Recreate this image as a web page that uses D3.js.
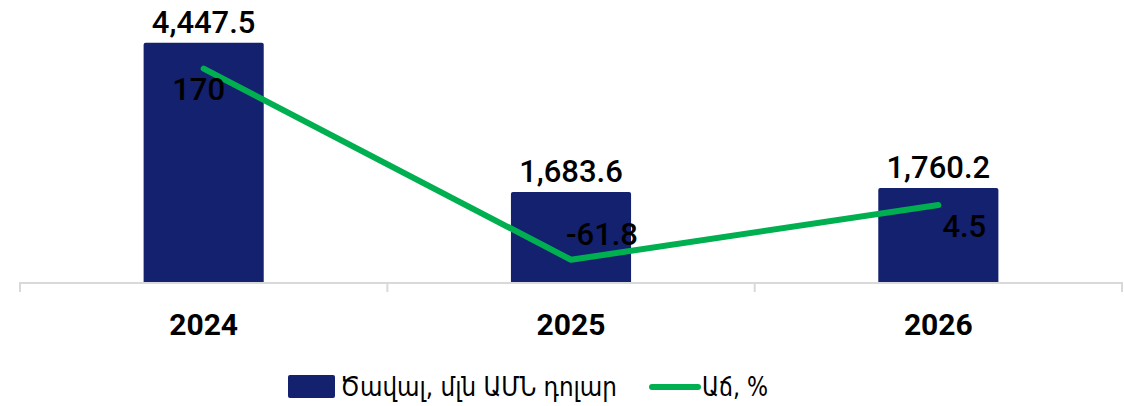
<!DOCTYPE html>
<html>
<head>
<meta charset="utf-8">
<script src="https://cdnjs.cloudflare.com/ajax/libs/d3/7.8.5/d3.min.js"></script>
<style>
body { margin: 0; background: #fff; }
svg text { font-family: Roboto, "DejaVu Sans", sans-serif; fill: #000; }
.val { font-size: 31px; font-weight: 500; }
.cat { font-size: 30px; font-weight: bold; }
.leg { font-family: "DejaVu Sans", sans-serif; font-size: 27px; }
</style>
</head>
<body>
<svg width="1124" height="406"></svg>
<script>

var years = ["2024", "2025", "2026"];
var volume = [4447.5, 1683.6, 1760.2];
var growth = [170, -61.8, 4.5];
var volumeLabels = ["4,447.5", "1,683.6", "1,760.2"];
var growthLabels = ["170", "-61.8", "4.5"];
var legendNames = ["Ծավալ, մլն ԱՄՆ դոլար", "Աճ, %"];

var svg = d3.select("svg"),
    plotLeft = 20, plotRight = 1122, plotBase = 283, plotTop = 13;

var x = d3.scaleBand().domain(years).range([plotLeft, plotRight]).padding(0);
var y = d3.scaleLinear().domain([0, 5000]).range([plotBase, plotTop]);
var y2 = d3.scaleLinear().domain([-90, 237.5]).range([plotBase, plotTop]);

var barW = x.bandwidth() * 0.327;
var cx = function(d) { return x(d) + x.bandwidth() / 2; };

// bars
svg.append("g").selectAll("rect")
    .data(years)
  .enter().append("rect")
    .attr("x", function(d) { return cx(d) - barW / 2; })
    .attr("y", function(d, i) { return y(volume[i]); })
    .attr("width", barW)
    .attr("height", function(d, i) { return plotBase - y(volume[i]) + 1; })
    .attr("rx", 2)
    .attr("fill", "#13216f");

// axis
var axis = svg.append("g")
    .attr("transform", "translate(0," + plotBase + ")")
    .call(d3.axisBottom(x).tickSize(0).tickFormat(""));
axis.select(".domain").attr("stroke", "#d9d9d9").attr("stroke-width", 2)
    .attr("d", "M" + plotLeft + ",9V0H" + plotRight + "V9");
axis.selectAll(".bnd")
    .data(years.slice(1))
  .enter().append("line")
    .attr("x1", function(d) { return x(d); })
    .attr("x2", function(d) { return x(d); })
    .attr("y1", 0).attr("y2", 9)
    .attr("stroke", "#d9d9d9").attr("stroke-width", 2);

svg.append("g").selectAll("text")
    .data(years)
  .enter().append("text")
    .attr("class", "cat")
    .attr("x", cx)
    .attr("y", 335)
    .attr("text-anchor", "middle")
    .text(function(d) { return d; });

// bar value labels
svg.append("g").selectAll("text")
    .data(years)
  .enter().append("text")
    .attr("class", "val")
    .attr("x", cx)
    .attr("y", function(d, i) { return y(volume[i]) - 10; })
    .attr("text-anchor", "middle")
    .text(function(d, i) { return volumeLabels[i]; });

// growth line
var line = d3.line()
    .x(function(d) { return cx(d); })
    .y(function(d, i) { return y2(growth[i]); });

svg.append("path")
    .datum(years)
    .attr("fill", "none")
    .attr("stroke", "#00b050")
    .attr("stroke-width", 6)
    .attr("stroke-linecap", "round")
    .attr("stroke-linejoin", "round")
    .attr("d", line);

var gOff = [[-5, 31], [31, -15], [26, 32]];
svg.append("g").selectAll("text")
    .data(years)
  .enter().append("text")
    .attr("class", "val")
    .attr("x", function(d, i) { return cx(d) + gOff[i][0]; })
    .attr("y", function(d, i) { return y2(growth[i]) + gOff[i][1]; })
    .attr("text-anchor", "middle")
    .text(function(d, i) { return growthLabels[i]; });

// legend
var leg = svg.append("g");
leg.append("rect").attr("x", 288).attr("y", 375).attr("width", 47).attr("height", 23)
    .attr("rx", 2).attr("fill", "#13216f");
leg.append("text").attr("class", "leg").attr("x", 340).attr("y", 396)
    .attr("textLength", 277).attr("lengthAdjust", "spacingAndGlyphs").text(legendNames[0]);
leg.append("line").attr("x1", 652).attr("x2", 698).attr("y1", 387).attr("y2", 387)
    .attr("stroke", "#00b050").attr("stroke-width", 6).attr("stroke-linecap", "round");
leg.append("text").attr("class", "leg").attr("x", 702).attr("y", 396)
    .attr("textLength", 66).attr("lengthAdjust", "spacingAndGlyphs").text(legendNames[1]);

</script>
</body>
</html>
